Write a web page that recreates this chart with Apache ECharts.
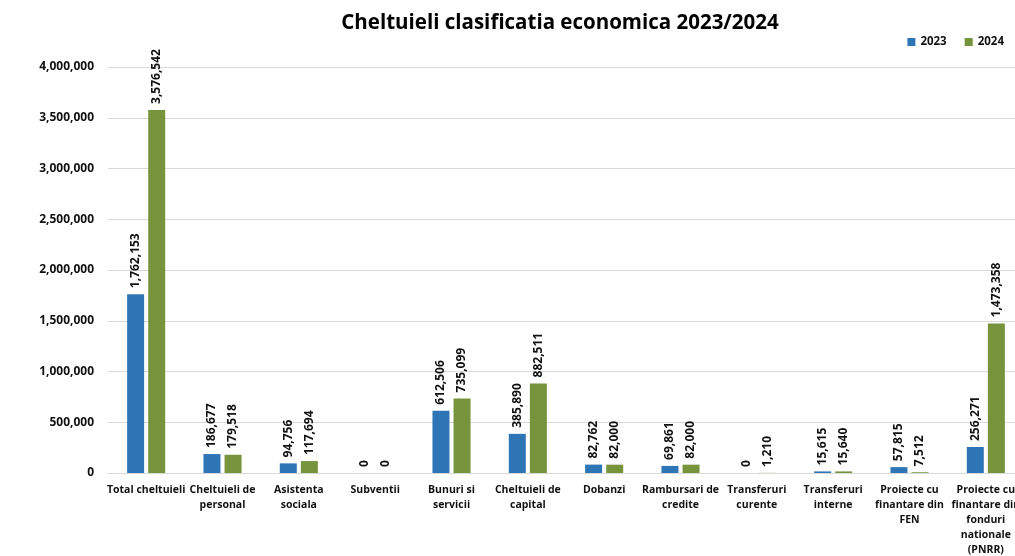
<!DOCTYPE html>
<html>
<head>
<meta charset="utf-8">
<script src="https://cdn.jsdelivr.net/npm/echarts@6/dist/echarts.min.js"></script>
<style>html,body{margin:0;padding:0;background:#fff}#c{width:1015px;height:556px}</style>
</head>
<body>
<div id="c"></div>
<script>
const categories = [
  "Total cheltuieli",
  "Cheltuieli de\npersonal",
  "Asistenta\nsociala",
  "Subventii",
  "Bunuri si\nservicii",
  "Cheltuieli de\ncapital",
  "Dobanzi",
  "Rambursari de\ncredite",
  "Transferuri\ncurente",
  "Transferuri\ninterne",
  "Proiecte cu\nfinantare din\nFEN",
  "Proiecte cu\nfinantare din\nfonduri\nnationale\n(PNRR)"
];
const values2023 = [1762153, 186677, 94756, 0, 612506, 385890, 82762, 69861, 0, 15615, 57815, 256271];
const values2024 = [3576542, 179518, 117694, 0, 735099, 882511, 82000, 82000, 1210, 15640, 7512, 1473358];
const yTicks = { min: 0, max: 4000000, interval: 500000 };

const FONT = "'Open Sans', 'Liberation Sans', sans-serif";
const fmt = v => Number(v).toLocaleString('en-US');

const labelCfg = {
  show: true,
  position: 'top',
  rotate: 90,
  align: 'left',
  verticalAlign: 'middle',
  distance: 6,
  fontFamily: FONT,
  fontWeight: 'bold',
  fontSize: 12,
  color: '#111',
  formatter: p => fmt(p.value)
};

const chart = echarts.init(document.getElementById('c'), null, { renderer: 'canvas' });
chart.setOption({
  animation: false,
  backgroundColor: '#fff',
  title: {
    text: 'Cheltuieli clasificatia economica 2023/2024',
    left: 555,
    textAlign: 'center',
    top: 8,
    textStyle: { fontFamily: FONT, fontWeight: 'bold', fontSize: 20.5, color: '#000' }
  },
  legend: {
    data: ['2023', '2024'],
    right: 6,
    top: 31,
    itemWidth: 8,
    itemHeight: 8,
    itemGap: 18,
    icon: 'rect',
    textStyle: { fontFamily: FONT, fontWeight: 'bold', fontSize: 11.5, color: '#111' }
  },
  grid: { left: 108, top: 67, width: 916, height: 406, containLabel: false, outerBoundsMode: 'none' },
  xAxis: {
    type: 'category',
    data: categories,
    axisLine: { lineStyle: { color: '#d9d9d9', width: 1 } },
    axisTick: { show: false },
    axisLabel: {
      interval: 0,
      margin: 10,
      fontFamily: FONT,
      fontWeight: 'bold',
      fontSize: 10.5,
      lineHeight: 15,
      color: '#111',
      verticalAlign: 'top',
      hideOverlap: false
    }
  },
  yAxis: {
    type: 'value',
    min: yTicks.min,
    max: yTicks.max,
    interval: yTicks.interval,
    axisLine: { show: false },
    axisTick: { show: false },
    splitLine: { lineStyle: { color: '#d9d9d9', width: 1 } },
    axisLabel: {
      margin: 14,
      fontFamily: FONT,
      fontWeight: 'bold',
      fontSize: 12,
      color: '#111',
      formatter: v => fmt(v)
    }
  },
  series: [
    {
      name: '2023',
      type: 'bar',
      data: values2023,
      barWidth: 17,
      barGap: '24%',
      itemStyle: { color: '#2E75B6' },
      label: labelCfg
    },
    {
      name: '2024',
      type: 'bar',
      data: values2024,
      barWidth: 17,
      itemStyle: { color: '#77933C' },
      label: labelCfg
    }
  ]
});
</script>
</body>
</html>
